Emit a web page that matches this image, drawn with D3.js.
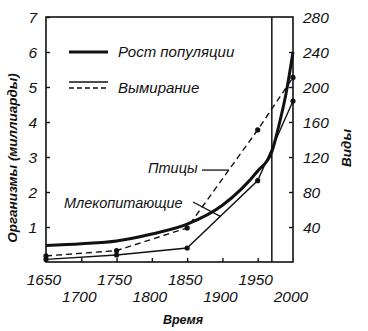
<!DOCTYPE html>
<html><head><meta charset="utf-8">
<script src="https://cdn.jsdelivr.net/npm/d3@7"></script>
<style>
html,body{margin:0;padding:0;background:#fff;}
text{font-family:"Liberation Sans",Arial,sans-serif;font-style:italic;fill:#111;}
</style></head>
<body>
<svg id="c" width="368" height="331"></svg>
<script>
// ---- data ----
const popYears  = [1650, 1700, 1750, 1800, 1850, 1900, 1950, 1970, 1980, 1990, 2000];
const popValues = [0.47, 0.52, 0.6, 0.8, 1.08, 1.62, 2.6, 3.15, 3.9, 4.8, 6.0];
const extYears   = [1650, 1750, 1850, 1950, 2000];
const birdValues = [7, 13, 39, 151, 211];
const mammalValues = [3, 8, 16, 93, 184];
const leftTicks  = [1, 2, 3, 4, 5, 6, 7];
const rightTicks = [40, 80, 120, 160, 200, 240, 280];
const xTicksRow1 = [1650, 1750, 1850, 1950];
const xTicksRow2 = [1700, 1800, 1900, 2000];
const markerYear = 1970;
const legendLabels = ["Рост популяции", "Вымирание"];
const seriesLabels = ["Птицы", "Млекопитающие"];
const axisTitles = ["Организмы (миллиарды)", "Виды", "Время"];

// ---- layout ----
const L = 46, R = 293, T = 17, B = 262;
const svg = d3.select("#c");
const x = d3.scaleLinear().domain([1650, 2000]).range([L, R]);
const yL = d3.scaleLinear().domain([0, 7]).range([B, T]);
const yR = d3.scaleLinear().domain([0, 280]).range([B, T]);

// frame
svg.append("rect").attr("x", L).attr("y", T).attr("width", R - L).attr("height", B - T)
  .attr("fill", "none").attr("stroke", "#111").attr("stroke-width", 1.6);

// axes with inward ticks
const styleAxis = g => { g.select(".domain").remove(); g.selectAll("line").attr("stroke", "#111").attr("stroke-width", 1.4); };
svg.append("g").attr("transform", `translate(${L},0)`)
  .call(d3.axisRight(yL).tickValues(leftTicks).tickSize(4).tickFormat("")).call(styleAxis);
svg.append("g").attr("transform", `translate(${R},0)`)
  .call(d3.axisLeft(yR).tickValues(rightTicks.slice(0, -1)).tickSize(4).tickFormat("")).call(styleAxis);
svg.append("g").attr("transform", `translate(0,${B})`)
  .call(d3.axisTop(x).tickValues(d3.range(1700, 2000, 50)).tickSize(4).tickFormat("")).call(styleAxis);

// tick labels
svg.append("g").selectAll("text").data(leftTicks).join("text")
  .attr("x", 37).attr("y", d => yL(d) + 5.5).attr("text-anchor", "end")
  .attr("font-size", 15.5).text(d => d);
svg.append("g").selectAll("text").data(rightTicks).join("text")
  .attr("x", 303).attr("y", d => yR(d) + 5.5).attr("text-anchor", "start")
  .attr("font-size", 15.5).text(d => d);
svg.append("g").selectAll("text").data(xTicksRow1).join("text")
  .attr("x", d => x(d) - 2).attr("y", 285).attr("text-anchor", "middle")
  .attr("font-size", 15.5).text(d => d);
svg.append("g").selectAll("text").data(xTicksRow2).join("text")
  .attr("x", d => x(d) - 2).attr("y", 302).attr("text-anchor", "middle")
  .attr("font-size", 15.5).text(d => d);

// axis titles
svg.append("text").attr("transform", "translate(17,158) rotate(-90)").attr("text-anchor", "middle")
  .attr("font-size", 13.5).attr("font-weight", "bold").text(axisTitles[0]);
svg.append("text").attr("transform", "translate(351,148) rotate(-90)").attr("text-anchor", "middle")
  .attr("font-size", 13.5).attr("font-weight", "bold").text(axisTitles[1]);
svg.append("text").attr("x", 183).attr("y", 324).attr("text-anchor", "middle")
  .attr("font-size", 12.5).attr("font-weight", "bold").text(axisTitles[2]);

// vertical marker line
svg.append("line").attr("x1", x(markerYear)).attr("x2", x(markerYear)).attr("y1", T).attr("y2", B)
  .attr("stroke", "#111").attr("stroke-width", 1.5);

// series
const popLine = d3.line().x((d, i) => x(popYears[i])).y(d => yL(d)).curve(d3.curveMonotoneX);
const extLine = d3.line().x((d, i) => x(extYears[i])).y(d => yR(d));
svg.append("path").attr("d", extLine(mammalValues)).attr("fill", "none").attr("stroke", "#111").attr("stroke-width", 1.4);
svg.append("path").attr("d", extLine(birdValues)).attr("fill", "none").attr("stroke", "#111").attr("stroke-width", 1.4)
  .attr("stroke-dasharray", "6,4");
svg.append("path").attr("d", popLine(popValues)).attr("fill", "none").attr("stroke", "#111").attr("stroke-width", 3);
[birdValues, mammalValues].forEach(vals => {
  svg.append("g").selectAll("circle").data(vals).join("circle")
    .attr("cx", (d, i) => x(extYears[i])).attr("cy", d => yR(d)).attr("r", 2.6).attr("fill", "#111");
});

// legend
svg.append("line").attr("x1", 69).attr("x2", 108).attr("y1", 52).attr("y2", 52).attr("stroke", "#111").attr("stroke-width", 3);
svg.append("text").attr("x", 118).attr("y", 57).attr("font-size", 15).text(legendLabels[0]);
svg.append("line").attr("x1", 69).attr("x2", 108).attr("y1", 82).attr("y2", 82).attr("stroke", "#111").attr("stroke-width", 1.4);
svg.append("line").attr("x1", 69).attr("x2", 108).attr("y1", 88).attr("y2", 88).attr("stroke", "#111").attr("stroke-width", 1.4).attr("stroke-dasharray", "5,3");
svg.append("text").attr("x", 118).attr("y", 93).attr("font-size", 15).text(legendLabels[1]);

// series labels with leader lines
function interp(years, vals, yr) {
  const i = d3.bisectRight(years, yr) - 1;
  const t = (yr - years[i]) / (years[i + 1] - years[i]);
  return vals[i] + t * (vals[i + 1] - vals[i]);
}
const birdLeadYear = 1909;
const by = yR(interp(extYears, birdValues, birdLeadYear));
svg.append("text").attr("x", 148).attr("y", 173).attr("font-size", 14.5).text(seriesLabels[0]);
svg.append("line").attr("x1", 202).attr("x2", x(birdLeadYear)).attr("y1", by).attr("y2", by)
  .attr("stroke", "#111").attr("stroke-width", 1.3);
const mamLeadYear = 1897;
svg.append("text").attr("x", 64).attr("y", 208).attr("font-size", 14.5).text(seriesLabels[1]);
svg.append("line").attr("x1", 193).attr("x2", x(mamLeadYear)).attr("y1", 202)
  .attr("y2", yR(interp(extYears, mammalValues, mamLeadYear)))
  .attr("stroke", "#111").attr("stroke-width", 1.3);
</script>
</body></html>
